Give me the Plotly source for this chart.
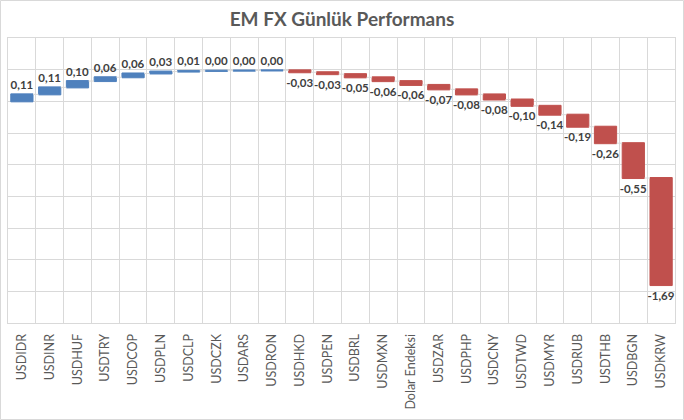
import plotly.graph_objects as go

categories = ["USDIDR", "USDINR", "USDHUF", "USDTRY", "USDCOP", "USDPLN", "USDCLP",
              "USDCZK", "USDARS", "USDRON", "USDHKD", "USDPEN", "USDBRL", "USDMXN",
              "Dolar Endeksi", "USDZAR", "USDPHP", "USDCNY", "USDTWD", "USDMYR",
              "USDRUB", "USDTHB", "USDBGN", "USDKRW"]
# the three "0,00" items are tiny positive moves (drawn as thin blue lines)
values = [0.11, 0.11, 0.10, 0.06, 0.06, 0.03, 0.01,
          0.004, 0.003, 0.002, -0.03, -0.03, -0.05, -0.06,
          -0.06, -0.07, -0.08, -0.08, -0.10, -0.14,
          -0.19, -0.26, -0.55, -1.69]
labels = [f"{v:.2f}".replace(".", ",") for v in values]

FONT = "Lato"
BLUE = "#4F81BD"
RED = "#C0504D"
GRID = "#D9D9D9"

fig = go.Figure(go.Waterfall(
    x=categories,
    y=values,
    measure=["relative"] * len(values),
    base=0,
    text=labels,
    texttemplate="%{text}",
    textposition="outside",
    constraintext="none",
    textfont=dict(family=FONT, size=11.5, color="#404040", weight="bold"),
    increasing=dict(marker=dict(color=BLUE, line=dict(color=BLUE, width=1))),
    decreasing=dict(marker=dict(color=RED, line=dict(color=RED, width=1))),
    connector=dict(mode="between", line=dict(color=GRID, width=1)),
    cliponaxis=False,
))

W, H = 684, 420
L, R, T, B = 8, 9, 38, 97
pw, ph = W - L - R, H - T - B

fig.update_layout(
    width=W, height=H,
    margin=dict(l=L, r=R, t=T, b=B, autoexpand=False),
    paper_bgcolor="white", plot_bgcolor="white",
    bargap=0.3,
    showlegend=False,
    title=dict(text="EM FX Günlük Performans", x=0.5, xanchor="center",
               y=1 - 19 / H, yanchor="middle", yref="container", automargin=False,
               font=dict(family=FONT, size=19, color="#595959", weight="bold")),
    xaxis=dict(tickangle=-90, tickson="boundaries", showgrid=True, gridcolor=GRID,
               ticks="", showline=True, linecolor=GRID, mirror=True, automargin=False,
               ticklabelstandoff=5,
               tickfont=dict(family=FONT, size=12.5, color="#595959")),
    yaxis=dict(range=[-3.5, 1.0], dtick=0.5, showticklabels=False, showgrid=True,
               gridcolor=GRID, zeroline=False, showline=True, linecolor=GRID,
               mirror=True, ticks="", automargin=False),
    shapes=[dict(type="rect", xref="paper", yref="paper",
                 x0=(-L + 0.5) / pw, x1=1 + (R - 0.5) / pw,
                 y0=(-B + 0.5) / ph, y1=1 + (T - 0.5) / ph,
                 line=dict(color=GRID, width=1), layer="below")],
)

fig.write_html("out.html", config={"displayModeBar": False, "staticPlot": True},
               post_script="document.body.style.margin='0';document.body.style.overflow='hidden';")
